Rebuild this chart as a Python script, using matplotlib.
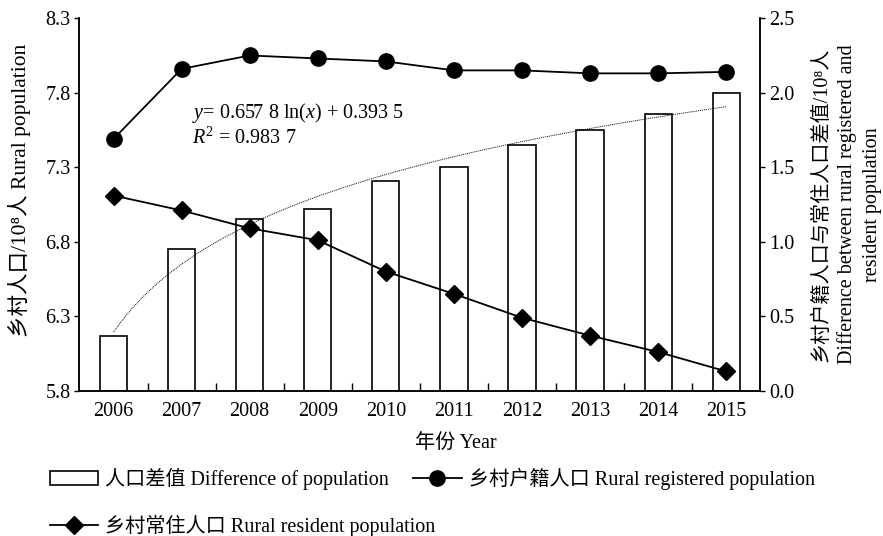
import numpy as np
import matplotlib
matplotlib.use('Agg')
import matplotlib.pyplot as plt

plt.rcParams['font.family'] = ['Liberation Serif', 'Noto Sans CJK SC']
plt.rcParams['font.size'] = 14.5
plt.rcParams['mathtext.fontset'] = 'custom'
plt.rcParams['mathtext.rm'] = 'Liberation Serif'
plt.rcParams['mathtext.it'] = 'Liberation Serif:italic'

years = ['2006', '2007', '2008', '2009', '2010', '2011', '2012', '2013', '2014', '2015']
# 10^8 people
registered = [7.49, 7.96, 8.05, 8.03, 8.01, 7.95, 7.95, 7.93, 7.93, 7.94]
resident = [7.11, 7.01, 6.89, 6.81, 6.60, 6.45, 6.29, 6.17, 6.06, 5.93]
difference = [0.37, 0.95, 1.15, 1.22, 1.41, 1.50, 1.65, 1.75, 1.86, 2.00]

x = np.arange(1, len(years) + 1)

fig = plt.figure(figsize=(8.83, 5.36), dpi=100)
ax = fig.add_axes([0.090, 0.271, 0.771, 0.695])
ax2 = ax.twinx()
ax.set_zorder(ax2.get_zorder() + 1)
ax.patch.set_visible(False)

# bars (right axis)
bars = ax2.bar(x, difference, width=0.4, color='white', edgecolor='black',
               linewidth=1.2, label='人口差值 Difference of population')

# logarithmic trend line fitted on the differences
k, b = np.polyfit(np.log(x), difference, 1)
xs = np.linspace(1, 10, 200)
ax2.plot(xs, k * np.log(xs) + b, color='black', linewidth=0.7, linestyle=(0, (1, 1)))

# population lines (left axis)
l_reg, = ax.plot(x, registered, color='black', linewidth=1.3, marker='o', markersize=11,
                 label='乡村户籍人口 Rural registered population')
l_res, = ax.plot(x, resident, color='black', linewidth=1.3, marker='D', markersize=9,
                 label='乡村常住人口 Rural resident population')

ax.set_xlim(0.5, 10.5)
ax.set_ylim(5.8, 8.3)
ax.set_yticks(np.arange(5.8, 8.31, 0.5))
ax.set_yticklabels(['%.1f' % v for v in np.arange(5.8, 8.31, 0.5)])
ax2.set_ylim(0, 2.5)
ax2.set_yticks(np.arange(0, 2.51, 0.5))
ax2.set_yticklabels(['%.1f' % v for v in np.arange(0, 2.51, 0.5)])

ax.set_xticks(x)
ax.set_xticklabels(years)
ax.tick_params(axis='x', length=0, pad=8)
ax.set_xticks(np.arange(1.5, 10.5, 1), minor=True)
ax.tick_params(axis='x', which='minor', direction='in', length=5.5, width=1)
ax.tick_params(axis='y', direction='out', length=3.5, width=1, pad=3)
ax2.tick_params(axis='y', direction='out', length=3.5, width=1, pad=3)

for a in (ax, ax2):
    a.spines['top'].set_visible(False)
    for s in ('left', 'right', 'bottom'):
        a.spines[s].set_linewidth(1.1)

ax.set_xlabel('年份 Year')
ax.xaxis.set_label_coords(0.553, -0.141)
ax.xaxis.label.set_va('center')
ax.set_ylabel('乡村人口/10⁸人 Rural population', va='center', fontsize=15.5)
ax.yaxis.set_label_coords(-0.088, 0.539)
ax2.set_ylabel('乡村户籍人口与常住人口差值/10⁸人\nDifference between rural registered and\nresident population',
               va='center', linespacing=1.4)
ax2.yaxis.set_label_coords(1.127, 0.5)

ax.text(0.166, 0.713, '$y$= 0.657 8 ln($x$) + 0.393 5\n$R^2$ = 0.983 7',
        transform=ax.transAxes, ha='left', va='center', linespacing=1.15)

leg_kw = dict(loc='upper left', frameon=False, borderpad=0, borderaxespad=0,
              handlelength=2.4, handletextpad=0.35, columnspacing=1.2)
fig.legend(handles=[bars, l_reg], ncol=2, bbox_to_anchor=(0.0566, 0.127), **leg_kw)
fig.legend(handles=[l_res], bbox_to_anchor=(0.0566, 0.039), **leg_kw)

fig.savefig('out.png', dpi=100)
